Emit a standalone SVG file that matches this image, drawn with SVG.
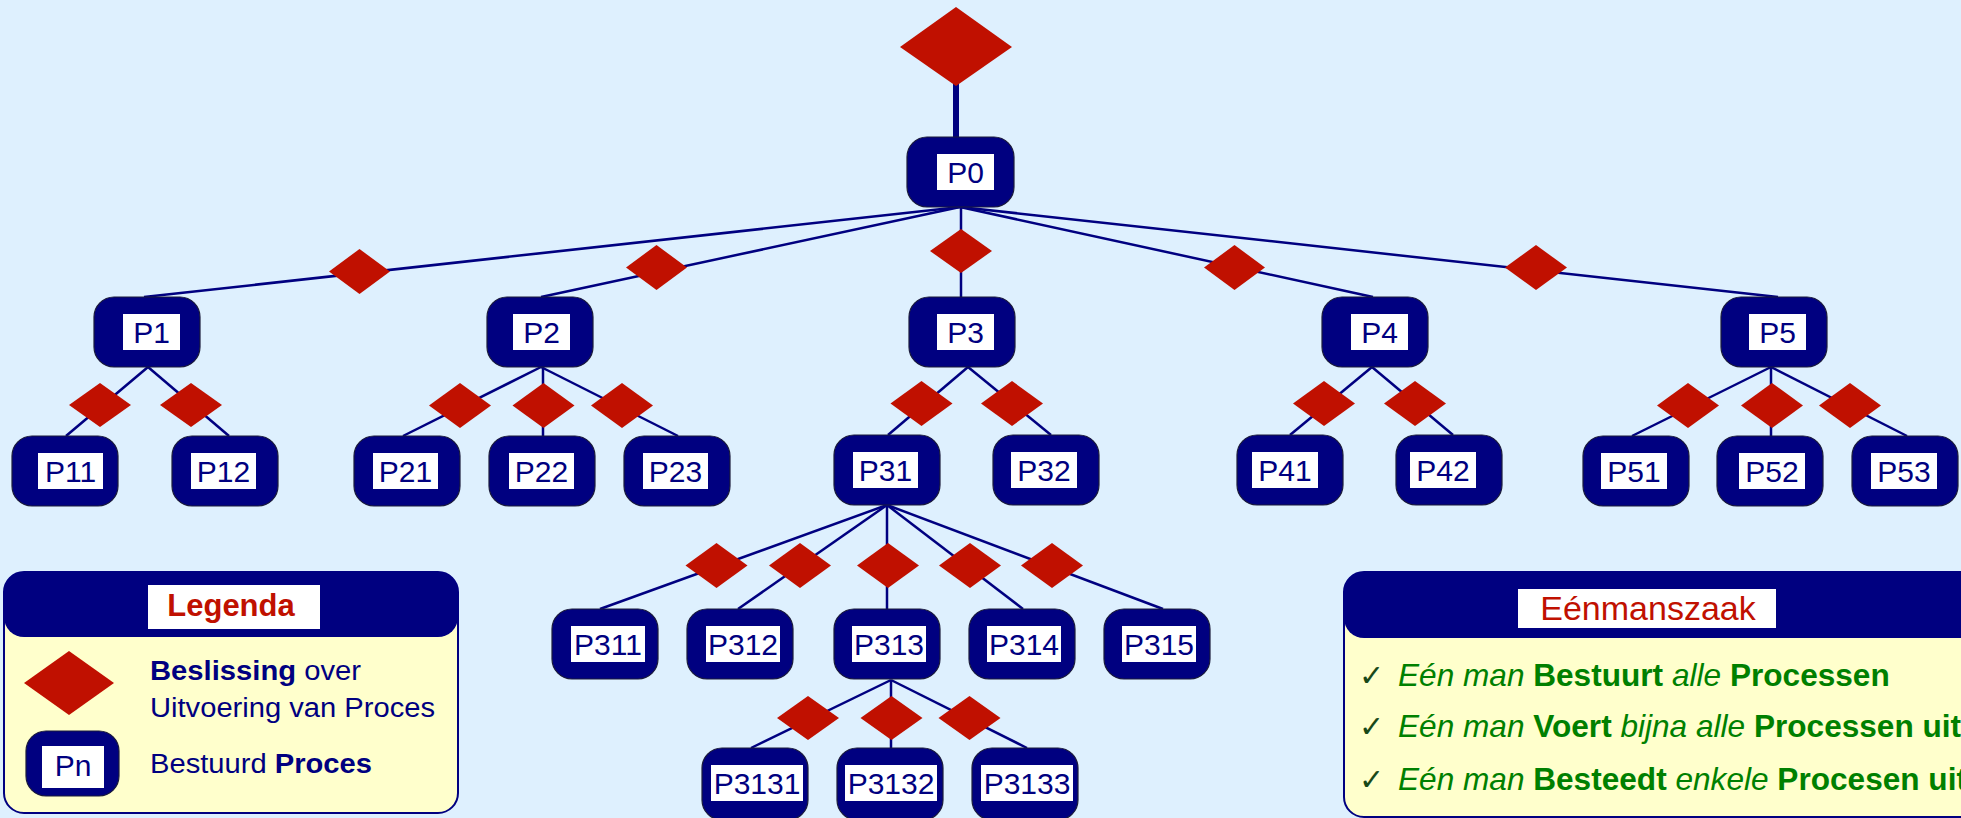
<svg xmlns="http://www.w3.org/2000/svg" width="1961" height="818" viewBox="0 0 1961 818">
<style>
.box{fill:#000080;stroke:#1b1b3a;stroke-width:1.2}
.lab{fill:#ffffff}
.nt{font-family:"Liberation Sans",Arial,sans-serif;font-size:30px;fill:#000080;text-anchor:middle}
.dia{fill:#C01000}
.ln{stroke:#000080;stroke-width:2.5;fill:none}
.g{font-family:"Liberation Sans",Arial,sans-serif;font-size:31.6px;fill:#008000}
.ck{font-family:"DejaVu Sans",sans-serif;font-size:30px;fill:#184818}
.lt{font-family:"Liberation Sans",Arial,sans-serif;font-size:27px;fill:#000080}
.i{font-style:italic}
.b{font-weight:bold}
</style>
<rect x="0" y="0" width="1961" height="818" fill="#DEF0FE"/>

<g id="connectors">
  <line class="ln" x1="956" y1="84" x2="956" y2="138" style="stroke-width:6"/>
  <line class="ln" x1="960" y1="207" x2="144" y2="297"/>
  <line class="ln" x1="960" y1="207" x2="541" y2="297"/>
  <line class="ln" x1="961" y1="207" x2="961" y2="297"/>
  <line class="ln" x1="960" y1="207" x2="1373" y2="297"/>
  <line class="ln" x1="960" y1="207" x2="1778" y2="297"/>
  <line class="ln" x1="148" y1="367" x2="66" y2="436"/>
  <line class="ln" x1="148" y1="367" x2="229" y2="436"/>
  <line class="ln" x1="541" y1="367" x2="403" y2="436"/>
  <line class="ln" x1="543" y1="367" x2="543" y2="436"/>
  <line class="ln" x1="541" y1="367" x2="678" y2="436"/>
  <line class="ln" x1="968" y1="367" x2="888" y2="435"/>
  <line class="ln" x1="968" y1="367" x2="1051" y2="435"/>
  <line class="ln" x1="1372" y1="367" x2="1290" y2="435"/>
  <line class="ln" x1="1372" y1="367" x2="1453" y2="435"/>
  <line class="ln" x1="1771" y1="367" x2="1632" y2="436"/>
  <line class="ln" x1="1771" y1="367" x2="1771" y2="436"/>
  <line class="ln" x1="1771" y1="367" x2="1907" y2="436"/>
  <line class="ln" x1="887" y1="505" x2="600" y2="609"/>
  <line class="ln" x1="887" y1="505" x2="738" y2="609"/>
  <line class="ln" x1="887" y1="505" x2="887" y2="609"/>
  <line class="ln" x1="887" y1="505" x2="1023" y2="609"/>
  <line class="ln" x1="887" y1="505" x2="1163" y2="609"/>
  <line class="ln" x1="891" y1="680" x2="751" y2="748"/>
  <line class="ln" x1="891" y1="680" x2="891" y2="748"/>
  <line class="ln" x1="891" y1="680" x2="1027" y2="748"/>
</g>

<g id="decisions">
  <polygon class="dia" points="956,7 1012,47 956,86 900,47"/>
  <polygon class="dia" points="359.5,249 390,271.5 359.5,294 329,271.5"/>
  <polygon class="dia" points="656.5,245 687,267.5 656.5,290 626,267.5"/>
  <polygon class="dia" points="961,229 992,251 961,273 930,251"/>
  <polygon class="dia" points="1234.5,245 1265,267.5 1234.5,290 1204,267.5"/>
  <polygon class="dia" points="1536,245 1567,267.5 1536,290 1505,267.5"/>
  <polygon class="dia" points="100,383 131,405 100,427 69,405"/>
  <polygon class="dia" points="191,383 222,405 191,427 160,405"/>
  <polygon class="dia" points="460,383 491,405.5 460,428 429,405.5"/>
  <polygon class="dia" points="543.5,383 574.5,405.5 543.5,428 512.5,405.5"/>
  <polygon class="dia" points="622,383 653,405.5 622,428 591,405.5"/>
  <polygon class="dia" points="921.5,381 952.5,403.5 921.5,426 890.5,403.5"/>
  <polygon class="dia" points="1012,381 1043,403.5 1012,426 981,403.5"/>
  <polygon class="dia" points="1324,381 1355,403.5 1324,426 1293,403.5"/>
  <polygon class="dia" points="1415,381 1446,403.5 1415,426 1384,403.5"/>
  <polygon class="dia" points="1688,383 1719,405.5 1688,428 1657,405.5"/>
  <polygon class="dia" points="1772,383 1803,405.5 1772,428 1741,405.5"/>
  <polygon class="dia" points="1850,383 1881,405.5 1850,428 1819,405.5"/>
  <polygon class="dia" points="716.5,543 747.5,565.5 716.5,588 685.5,565.5"/>
  <polygon class="dia" points="800,543 831,565.5 800,588 769,565.5"/>
  <polygon class="dia" points="888,543 919,565.5 888,588 857,565.5"/>
  <polygon class="dia" points="970,543 1001,565.5 970,588 939,565.5"/>
  <polygon class="dia" points="1052,543 1083,565.5 1052,588 1021,565.5"/>
  <polygon class="dia" points="808,696 839,718 808,740 777,718"/>
  <polygon class="dia" points="891.5,696 922.5,718 891.5,740 860.5,718"/>
  <polygon class="dia" points="969.5,696 1000.5,718 969.5,740 938.5,718"/>
</g>

<g id="P0"><rect class="box" x="907" y="137" width="107" height="70" rx="20"/><rect class="lab" x="937" y="154" width="57" height="36"/><text class="nt" x="965.5" y="183">P0</text></g>
<g id="P1"><rect class="box" x="94" y="297" width="106" height="70" rx="20"/><rect class="lab" x="123" y="314" width="57" height="36"/><text class="nt" x="151.5" y="343">P1</text></g>
<g id="P2"><rect class="box" x="487" y="297" width="106" height="70" rx="20"/><rect class="lab" x="513" y="314" width="57" height="36"/><text class="nt" x="541.5" y="343">P2</text></g>
<g id="P3"><rect class="box" x="909" y="297" width="106" height="70" rx="20"/><rect class="lab" x="937" y="314" width="57" height="36"/><text class="nt" x="965.5" y="343">P3</text></g>
<g id="P4"><rect class="box" x="1322" y="297" width="106" height="70" rx="20"/><rect class="lab" x="1351" y="314" width="57" height="36"/><text class="nt" x="1379.5" y="343">P4</text></g>
<g id="P5"><rect class="box" x="1721" y="297" width="106" height="70" rx="20"/><rect class="lab" x="1749" y="314" width="57" height="36"/><text class="nt" x="1777.5" y="343">P5</text></g>

<g id="P11"><rect class="box" x="12" y="436" width="106" height="70" rx="20"/><rect class="lab" x="38" y="453" width="65" height="36"/><text class="nt" x="70.5" y="482">P11</text></g>
<g id="P12"><rect class="box" x="172" y="436" width="106" height="70" rx="20"/><rect class="lab" x="191" y="453" width="65" height="36"/><text class="nt" x="223.5" y="482">P12</text></g>
<g id="P21"><rect class="box" x="354" y="436" width="106" height="70" rx="20"/><rect class="lab" x="373" y="453" width="65" height="36"/><text class="nt" x="405.5" y="482">P21</text></g>
<g id="P22"><rect class="box" x="489" y="436" width="106" height="70" rx="20"/><rect class="lab" x="509" y="453" width="65" height="36"/><text class="nt" x="541.5" y="482">P22</text></g>
<g id="P23"><rect class="box" x="624" y="436" width="106" height="70" rx="20"/><rect class="lab" x="643" y="453" width="65" height="36"/><text class="nt" x="675.5" y="482">P23</text></g>
<g id="P31"><rect class="box" x="834" y="435" width="106" height="70" rx="20"/><rect class="lab" x="853" y="452" width="65" height="36"/><text class="nt" x="885.5" y="481">P31</text></g>
<g id="P32"><rect class="box" x="993" y="435" width="106" height="70" rx="20"/><rect class="lab" x="1011" y="452" width="66" height="36"/><text class="nt" x="1044" y="481">P32</text></g>
<g id="P41"><rect class="box" x="1237" y="435" width="106" height="70" rx="20"/><rect class="lab" x="1252" y="452" width="66" height="36"/><text class="nt" x="1285" y="481">P41</text></g>
<g id="P42"><rect class="box" x="1396" y="435" width="106" height="70" rx="20"/><rect class="lab" x="1410" y="452" width="66" height="36"/><text class="nt" x="1443" y="481">P42</text></g>
<g id="P51"><rect class="box" x="1583" y="436" width="106" height="70" rx="20"/><rect class="lab" x="1601" y="453" width="66" height="36"/><text class="nt" x="1634" y="482">P51</text></g>
<g id="P52"><rect class="box" x="1717" y="436" width="106" height="70" rx="20"/><rect class="lab" x="1739" y="453" width="66" height="36"/><text class="nt" x="1772" y="482">P52</text></g>
<g id="P53"><rect class="box" x="1852" y="436" width="106" height="70" rx="20"/><rect class="lab" x="1871" y="453" width="66" height="36"/><text class="nt" x="1904" y="482">P53</text></g>

<g id="P311"><rect class="box" x="552" y="609" width="106" height="70" rx="20"/><rect class="lab" x="571" y="626" width="74" height="36"/><text class="nt" x="608" y="655">P311</text></g>
<g id="P312"><rect class="box" x="687" y="609" width="106" height="70" rx="20"/><rect class="lab" x="706" y="626" width="74" height="36"/><text class="nt" x="743" y="655">P312</text></g>
<g id="P313"><rect class="box" x="834" y="609" width="106" height="70" rx="20"/><rect class="lab" x="852" y="626" width="74" height="36"/><text class="nt" x="889" y="655">P313</text></g>
<g id="P314"><rect class="box" x="969" y="609" width="106" height="70" rx="20"/><rect class="lab" x="987" y="626" width="74" height="36"/><text class="nt" x="1024" y="655">P314</text></g>
<g id="P315"><rect class="box" x="1104" y="609" width="106" height="70" rx="20"/><rect class="lab" x="1122" y="626" width="74" height="36"/><text class="nt" x="1159" y="655">P315</text></g>

<g id="P3131"><rect class="box" x="702" y="748" width="106" height="72" rx="20"/><rect class="lab" x="711" y="765" width="92" height="36"/><text class="nt" x="757" y="794">P3131</text></g>
<g id="P3132"><rect class="box" x="837" y="748" width="106" height="72" rx="20"/><rect class="lab" x="845" y="765" width="92" height="36"/><text class="nt" x="891" y="794">P3132</text></g>
<g id="P3133"><rect class="box" x="972" y="748" width="106" height="72" rx="20"/><rect class="lab" x="981" y="765" width="92" height="36"/><text class="nt" x="1027" y="794">P3133</text></g>

<g id="legend">
  <rect x="4" y="572" width="454" height="241" rx="20" fill="#FFFFCC" stroke="#000080" stroke-width="2"/>
  <rect x="4" y="572" width="454" height="65" rx="20" fill="#000080"/>
  <rect x="148" y="585" width="172" height="44" fill="#ffffff"/>
  <text x="231" y="616" text-anchor="middle" font-family="Liberation Sans, Arial, sans-serif" font-size="31" font-weight="bold" fill="#C01000">Legenda</text>
  <polygon class="dia" points="69,651 114,683 69,715 24,683"/>
  <rect class="box" x="26" y="731" width="93" height="65" rx="20"/>
  <rect class="lab" x="42" y="746" width="62" height="42"/>
  <text class="nt" x="73" y="776">Pn</text>
  <text class="lt" x="150" y="680" textLength="211" lengthAdjust="spacingAndGlyphs"><tspan class="b">Beslissing</tspan> over</text>
  <text class="lt" x="150" y="717" textLength="285" lengthAdjust="spacingAndGlyphs">Uitvoering van Proces</text>
  <text class="lt" x="150" y="773" textLength="222" lengthAdjust="spacingAndGlyphs">Bestuurd <tspan class="b">Proces</tspan></text>
</g>

<g id="eenmanszaak">
  <rect x="1344" y="572" width="800" height="245" rx="20" fill="#FFFFCC" stroke="#000080" stroke-width="2"/>
  <rect x="1344" y="572" width="800" height="66" rx="20" fill="#000080"/>
  <rect x="1518" y="589" width="258" height="39" fill="#ffffff"/>
  <text x="1648" y="620" text-anchor="middle" font-family="Liberation Sans, Arial, sans-serif" font-size="34" fill="#C01000">Eénmanszaak</text>
  <text class="ck" x="1359" y="686">✓</text>
  <text class="ck" x="1359" y="737">✓</text>
  <text class="ck" x="1359" y="790">✓</text>
  <text class="g" x="1398" y="686"><tspan class="i">Eén man </tspan><tspan class="b">Bestuurt</tspan><tspan class="i"> alle </tspan><tspan class="b">Processen</tspan></text>
  <text class="g" x="1398" y="737"><tspan class="i">Eén man </tspan><tspan class="b">Voert</tspan><tspan class="i"> bijna alle </tspan><tspan class="b">Processen uit</tspan></text>
  <text class="g" x="1398" y="790"><tspan class="i">Eén man </tspan><tspan class="b">Besteedt</tspan><tspan class="i"> enkele </tspan><tspan class="b">Procesen uit</tspan></text>
</g>
</svg>
